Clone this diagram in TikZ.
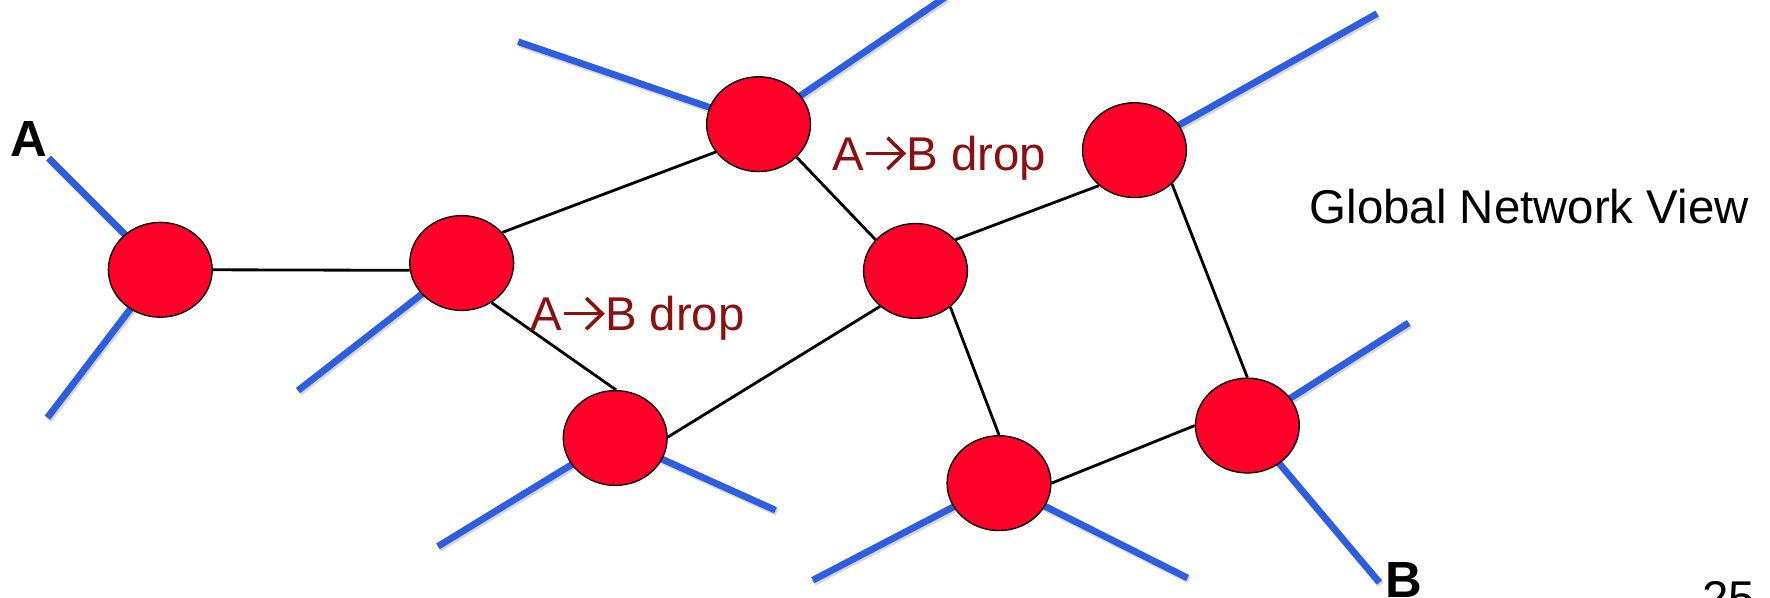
\documentclass[tikz,border=0pt]{standalone}
\usepackage{fontspec}
\setmainfont{Liberation Sans}
\usetikzlibrary{shapes.geometric,backgrounds}
\definecolor{nodered}{RGB}{255,0,40}
\definecolor{linkblue}{RGB}{45,93,225}
\definecolor{dropred}{RGB}{140,16,16}
\newcommand{\chevarrow}{\tikz[baseline=0pt, x=1em, y=1em, line width=0.075em,
  line cap=butt, line join=miter]{%
  \useasboundingbox (0,0) rectangle (0.9,0.7);
  \draw[dropred] (0.04,0.36) -- (0.84,0.36);
  \draw[dropred] (0.50,0.69) -- (0.84,0.36) -- (0.50,0.03);}}
\begin{document}
\begin{tikzpicture}[x=1pt,y=-1pt,
  router/.style={ellipse, draw=black, line width=1.2pt, fill=nodered,
    minimum width=92pt, minimum height=84pt, inner sep=0pt},
  link/.style={draw=black, line width=2.5pt},
  stub/.style={draw=linkblue, line width=6pt,
    preaction={draw=black!35, opacity=0.45, line width=6pt,
      transform canvas={shift={(1.2pt,-2pt)}}}},
  droplabel/.style={text=dropred, anchor=base west, inner sep=0pt,
    font=\fontsize{42}{48}\selectfont},
  plain/.style={anchor=base west, inner sep=0pt, font=\fontsize{42}{48}\selectfont},
  endlabel/.style={anchor=base west, inner sep=0pt, font=\fontsize{45}{50}\selectfont\bfseries}]
\useasboundingbox (0,0) rectangle (1568,529);
% routers
\node[router] (n1) at (142,239) {};
\node[router] (n2) at (409,233) {};
\node[router] (n3) at (672,110) {};
\node[router] (n4) at (811,240) {};
\node[router] (n5) at (1005,133) {};
\node[router] (n6) at (545,388) {};
\node[router] (n7) at (885,428) {};
\node[router] (n8) at (1105,377) {};
% stub ends
\coordinate (e1a) at (43,140);
\coordinate (e1b) at (42,370);
\coordinate (e2a) at (264,346);
\coordinate (e3a) at (459,37);
\coordinate (e3b) at (838,-3);
\coordinate (e5a) at (1220,12);
\coordinate (e6a) at (388,484);
\coordinate (e6b) at (687,452);
\coordinate (e7a) at (720,514);
\coordinate (e7b) at (1052,512);
\coordinate (e8a) at (1248,286);
\coordinate (e8b) at (1222,516);
\begin{scope}[on background layer]
  \foreach \a/\b in {n1.0/n2.188, n2.37/n3.213, n2.307/n6.89, n3.319/n4.142,
                     n4.38/n5.225, n4.225/n6.1, n4.314/n7.90, n5.318/n8.90, n7.0/n8.180}
    \draw[link] (\a) -- (\b);
  \foreach \a/\b in {n1/e1a,n1/e1b,n2/e2a,n3/e3a,n3/e3b,n5/e5a,n6/e6a,n6/e6b,n7/e7a,n7/e7b,n8/e8a,n8/e8b}
    \draw[stub] (\a.center) -- (\b);
\end{scope}
% labels
\node[droplabel] (d1) at (737,151) {A\chevarrow B drop};
\node[droplabel] (d2) at (470,293) {A\chevarrow B drop};
\node[plain] (gnv) at (1160,198) {Global Network View};
\node[plain] (pg) at (1508,544) {25};
\node[endlabel] (la) at (9,139) {A};
\node[endlabel] (lb) at (1227,529) {B};
\end{tikzpicture}
\end{document}
